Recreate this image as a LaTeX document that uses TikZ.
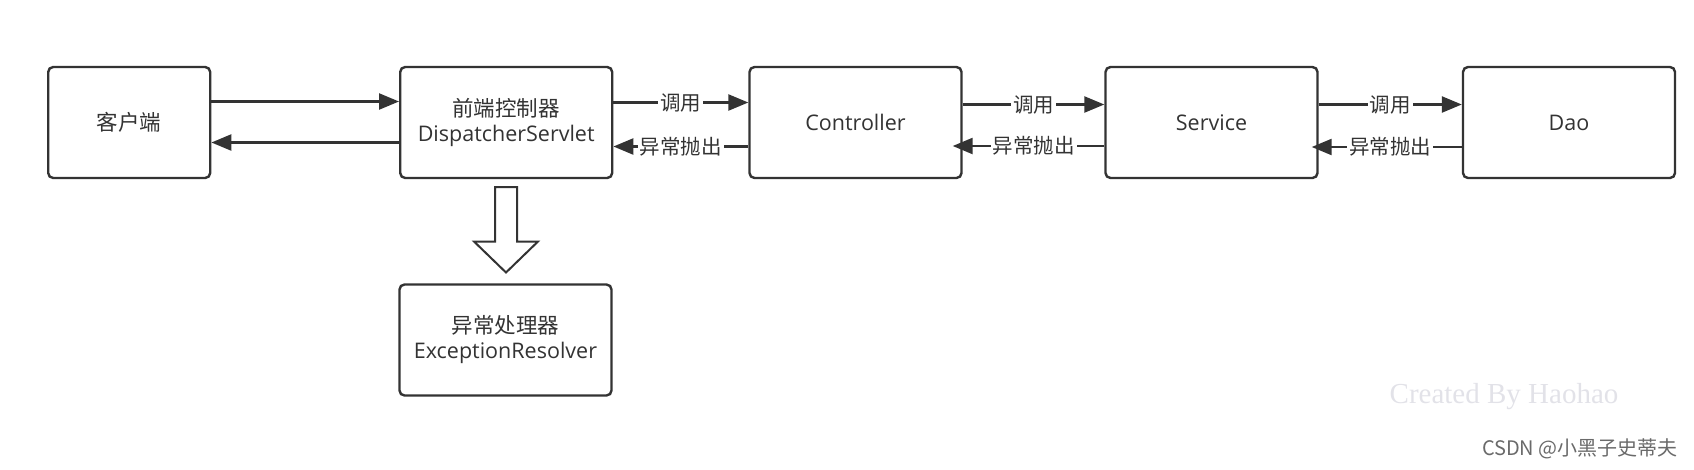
\documentclass[tikz,border=0pt]{standalone}
\usepackage{fontspec}
\setmainfont{Open Sans}
\newfontfamily\cjk{Noto Sans CJK SC}
\newfontfamily\wmserif{Liberation Serif}
\usetikzlibrary{arrows.meta}
\definecolor{ink}{HTML}{333333}
\definecolor{wm}{HTML}{E2E2E8}
\definecolor{csdn}{HTML}{6A6A6A}
\tikzset{
  box/.style={draw=ink, line width=2.4pt, rounded corners=5pt, fill=white,
    minimum width=212pt, minimum height=111pt, align=center, text=ink,
    font=\fontsize{21.5}{25}\selectfont, inner sep=0pt},
  conn/.style={draw=ink, line width=2.4pt, -{Triangle[length=20pt,width=16pt]}},
  lbl/.style={fill=white, text=ink, inner sep=2pt, font=\cjk\fontsize{20.5}{22}\selectfont}
}
\begin{document}
\begin{tikzpicture}[x=1pt,y=-1pt]
\useasboundingbox (0,0) rectangle (1694,469);
\node[box, minimum width=162pt] (client) at (129.2,122.5) {\cjk 客户端};
\node[box] (ds) at (506.2,122.5) {\cjk 前端控制器\\DispatcherServlet};
\node[box] (ctrl) at (855.5,122.5) {Controller};
\node[box] (svc) at (1211.5,122.5) {Service};
\node[box] (dao) at (1569,122.5) {Dao};
\node[box] (exc) at (505.5,340) {\cjk 异常处理器\\ExceptionResolver};
% client <-> ds
\draw[conn] ([yshift=21pt]client.east) -- ([yshift=21pt]ds.west);
\draw[conn] ([yshift=-20pt]ds.west) -- ([yshift=-20pt]client.east);
% ds <-> controller
\draw[conn] ([yshift=20pt]ds.east) -- node[lbl]{调用} ([yshift=20pt]ctrl.west);
\draw[conn] ([yshift=-24pt]ctrl.west) -- node[lbl]{异常抛出} ([yshift=-24pt]ds.east);
% controller <-> service
\draw[conn] ([yshift=18pt]ctrl.east) -- node[lbl]{调用} ([yshift=18pt]svc.west);
\draw[conn, shorten >=-10pt] ([yshift=-23.5pt]svc.west) -- node[lbl]{异常抛出} ([yshift=-23.5pt]ctrl.east);
% service <-> dao
\draw[conn] ([yshift=18pt]svc.east) -- node[lbl]{调用} ([yshift=18pt]dao.west);
\draw[conn, shorten >=-7pt] ([yshift=-24.5pt]dao.west) -- node[lbl]{异常抛出} ([yshift=-24.5pt]svc.east);
% hollow arrow
\draw[ink, line width=2pt, fill=white, line join=miter]
  (495,187) -- (517,187) -- (517,241.5) -- (538,241.5) -- (506,272.5)
  -- (474,241.5) -- (495,241.5) -- cycle;
% watermarks
\node[text=wm, font=\wmserif\fontsize{29}{30}\selectfont, inner sep=0pt] (wmk) at (1504,397) {Created By Haohao};
\node[text=csdn, font=\cjk\fontsize{20}{22}\selectfont, inner sep=0pt, anchor=east] (csdnmark) at (1678,449) {CSDN @小黑子史蒂夫};
\end{tikzpicture}
\end{document}
